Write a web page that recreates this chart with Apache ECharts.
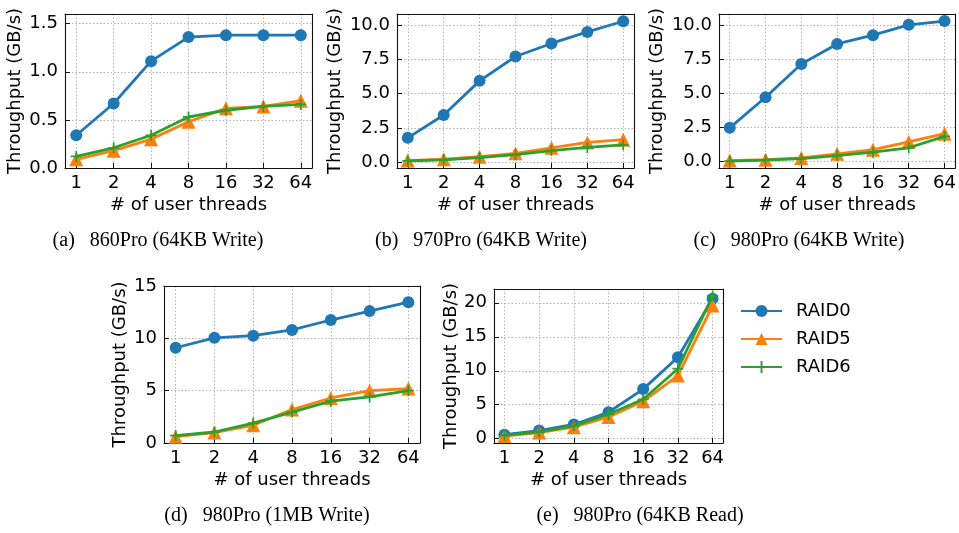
<!DOCTYPE html>
<html>
<head>
<meta charset="utf-8">
<script src="https://cdn.jsdelivr.net/npm/echarts@6/dist/echarts.min.js"></script>
<style>html,body{margin:0;padding:0;background:#fff;}#c{width:959px;height:533px;}</style>
</head>
<body>
<div id="c"></div>
<script>
// ---- data ----
const threads = ['1', '2', '4', '8', '16', '32', '64'];
const seriesNames = ['RAID0', 'RAID5', 'RAID6'];

// (a) 860Pro 64KB Write
const a_raid0 = [0.34, 0.67, 1.11, 1.36, 1.38, 1.38, 1.38];
const a_raid5 = [0.09, 0.18, 0.30, 0.48, 0.62, 0.64, 0.70];
const a_raid6 = [0.12, 0.21, 0.34, 0.53, 0.60, 0.64, 0.66];
// (b) 970Pro 64KB Write
const b_raid0 = [1.78, 3.45, 5.94, 7.72, 8.67, 9.51, 10.29];
const b_raid5 = [0.12, 0.22, 0.40, 0.65, 1.05, 1.45, 1.65];
const b_raid6 = [0.10, 0.18, 0.33, 0.55, 0.85, 1.08, 1.27];
// (c) 980Pro 64KB Write
const c_raid0 = [2.48, 4.72, 7.15, 8.62, 9.26, 10.02, 10.29];
const c_raid5 = [0.08, 0.15, 0.28, 0.58, 0.88, 1.45, 2.05];
const c_raid6 = [0.05, 0.12, 0.22, 0.45, 0.70, 1.02, 1.85];
// (d) 980Pro 1MB Write
const d_raid0 = [9.1, 10.05, 10.25, 10.8, 11.75, 12.6, 13.45];
const d_raid5 = [0.6, 1.0, 1.7, 3.2, 4.3, 5.0, 5.2];
const d_raid6 = [0.7, 1.05, 1.9, 2.95, 4.0, 4.4, 5.0];
// (e) 980Pro 64KB Read
const e_raid0 = [0.6, 1.2, 2.1, 3.9, 7.3, 12.0, 20.6];
const e_raid5 = [0.4, 0.9, 1.7, 3.2, 5.5, 9.3, 19.6];
const e_raid6 = [0.5, 1.0, 1.9, 3.6, 5.8, 10.3, 21.0];

const captions = ['(a)\u2002 860Pro (64KB Write)', '(b)\u2002 970Pro (64KB Write)', '(c)\u2002 980Pro (64KB Write)',
                  '(d)\u2002 980Pro (1MB Write)', '(e)\u2002 980Pro (64KB Read)'];
const yTicksA = [0, 0.5, 1.0, 1.5];
const yTicksB = [0, 2.5, 5, 7.5, 10];
const yTicksC = [0, 2.5, 5, 7.5, 10];
const yTicksD = [0, 5, 10, 15];
const yTicksE = [0, 5, 10, 15, 20];

// ---- layout / style ----
const panels = [
  {data: [a_raid0, a_raid5, a_raid6], yTicks: yTicksA, dec: 1, min: 0, max: 1.6,
   grid: {left: 65, top: 14, width: 247, height: 154}, yGap: 41, cap: [158, 241]},
  {data: [b_raid0, b_raid5, b_raid6], yTicks: yTicksB, dec: 1, min: -0.42, max: 10.82,
   grid: {left: 397, top: 14, width: 237, height: 154}, yGap: 53, cap: [481, 241]},
  {data: [c_raid0, c_raid5, c_raid6], yTicks: yTicksC, dec: 1, min: -0.46, max: 10.81,
   grid: {left: 719, top: 14, width: 237, height: 154}, yGap: 53, cap: [799, 241]},
  {data: [d_raid0, d_raid5, d_raid6], yTicks: yTicksD, dec: 0, min: 0, max: 15,
   grid: {left: 164, top: 286, width: 256, height: 157}, yGap: 35, cap: [267, 516]},
  {data: [e_raid0, e_raid5, e_raid6], yTicks: yTicksE, dec: 0, min: -0.63, max: 22.03,
   grid: {left: 494, top: 289, width: 229, height: 154}, yGap: 32, cap: [640, 516]}
];
const colors = ['#1f77b4', '#ff7f0e', '#2ca02c'];
const PLUS = 'path://M4.2,0h1.6v4.2h4.2v1.6h-4.2v4.2h-1.6v-4.2h-4.2v-1.6h4.2z';
const symbols = ['circle', 'triangle', PLUS];
const symbolSizes = [12, 14, 11];
const FONT = 'DejaVu Sans';
const xIdx = threads.map((t, i) => i);

const gridLine = () => ({show: true, lineStyle: {type: [1.5, 2], color: '#b4b4b4', width: 1}});
const frameLine = {show: true, onZero: false, lineStyle: {color: '#111', width: 1.1}};

const xAxes = [], yAxes = [];
panels.forEach((p, i) => {
  xAxes.push({
    type: 'value', gridIndex: i, min: -0.3, max: 6.3, position: 'bottom',
    axisLine: frameLine,
    axisTick: {show: true, inside: true, length: 5, customValues: xIdx, lineStyle: {color: '#111', width: 1}},
    axisLabel: {customValues: xIdx, formatter: v => threads[Math.round(v)], fontSize: 18,
                color: '#000', fontFamily: FONT, margin: 6},
    splitLine: gridLine(),
    name: '# of user threads', nameLocation: 'middle', nameGap: 28,
    nameTextStyle: {fontSize: 18, color: '#000', fontFamily: FONT}
  });
  yAxes.push({
    type: 'value', gridIndex: i, min: p.min, max: p.max, position: 'left',
    axisLine: frameLine,
    axisTick: {show: true, inside: true, length: 5, customValues: p.yTicks, lineStyle: {color: '#111', width: 1}},
    axisLabel: {customValues: p.yTicks, formatter: v => v.toFixed(p.dec), fontSize: 18,
                color: '#000', fontFamily: FONT, margin: 7},
    splitLine: gridLine(),
    name: 'Throughput (GB/s)', nameLocation: 'middle', nameGap: p.yGap,
    nameTextStyle: {fontSize: 18, color: '#000', fontFamily: FONT}
  });
});
// frame axes (top / right) – lines only
panels.forEach((p, i) => {
  xAxes.push({type: 'value', gridIndex: i, min: -0.3, max: 6.3, position: 'top',
    axisLine: frameLine, axisTick: {show: false}, axisLabel: {show: false}, splitLine: {show: false}});
  yAxes.push({type: 'value', gridIndex: i, min: p.min, max: p.max, position: 'right',
    axisLine: frameLine, axisTick: {show: false}, axisLabel: {show: false}, splitLine: {show: false}});
});

const option = {
  animation: false,
  backgroundColor: '#fff',
  textStyle: {fontFamily: FONT},
  grid: panels.map(p => Object.assign({show: false}, p.grid)),
  xAxis: xAxes,
  yAxis: yAxes,
  legend: {
    data: seriesNames, orient: 'vertical', left: 740, top: 301, padding: 0,
    itemWidth: 41, itemHeight: 15, itemGap: 8,
    textStyle: {fontSize: 18, color: '#000', fontFamily: FONT, lineHeight: 20, padding: [0, 0, 0, 9]}
  },
  series: [],
  graphic: panels.map((p, i) => ({
    type: 'text', x: p.cap[0], y: p.cap[1],
    style: {text: captions[i], font: '20px "Liberation Serif"', fill: '#000', align: 'center', verticalAlign: 'middle'}
  }))
};

panels.forEach((p, pi) => {
  p.data.forEach((vals, si) => {
    option.series.push({
      type: 'line', name: seriesNames[si], xAxisIndex: pi, yAxisIndex: pi,
      data: vals.map((v, i) => [i, v]),
      symbol: symbols[si], symbolSize: symbolSizes[si], showAllSymbol: true,
      lineStyle: {width: 2.8, color: colors[si]},
      itemStyle: {color: colors[si]},
      z: 2 + si, clip: false
    });
  });
});

const chart = echarts.init(document.getElementById('c'), null, {renderer: 'canvas'});
chart.setOption(option);
</script>
</body>
</html>
